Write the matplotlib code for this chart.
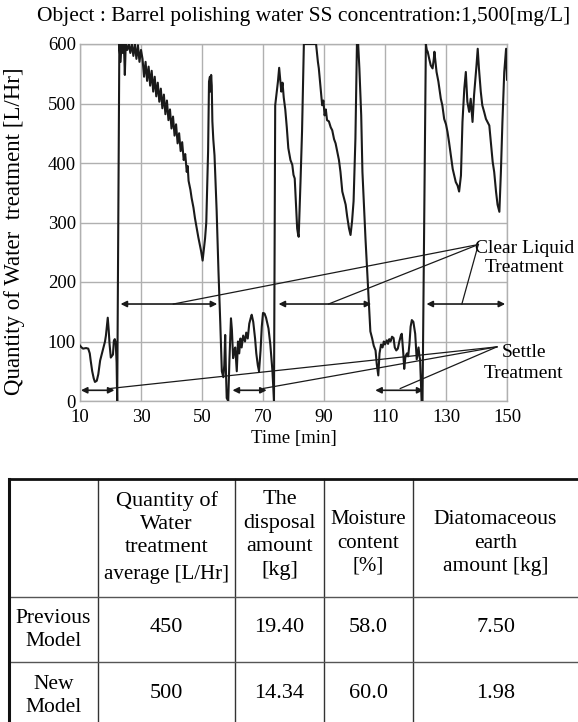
import matplotlib
matplotlib.use('Agg')
import matplotlib.pyplot as plt

plt.rcParams['font.family'] = ['Liberation Serif', 'DejaVu Serif']

# flow curve: time [min], quantity [L/Hr]
time_min = [
    10, 10.5, 11, 12, 12.7, 13.2, 13.5, 14, 14.5, 14.9, 15.5, 16, 16.6, 17.2, 17.8, 18.2, 18.5, 18.8,
    19.1, 19.4, 19.7, 20.1, 20.5, 20.8, 21.1, 21.4, 21.7, 22.0, 22.2,
    22.9, 23.3, 23.6, 24.0, 24.4, 24.7, 25.0, 25.5, 26, 26.5, 27, 27.5, 28, 28.5, 29, 29.5, 30,
    30.5, 31.0, 31.5, 32.0, 32.5, 33.0, 33.5, 34.0, 34.5, 35.0, 35.5, 36.0, 36.5, 37.0, 37.5, 38.0,
    38.5, 39.0, 39.5, 40.0, 40.5, 41.0, 41.5, 42.0, 42.5, 43.0, 43.5, 44.0, 44.5, 45.0, 45.3, 45.6,
    46.2, 46.6, 47.2, 47.7, 48.2, 48.8, 49.3, 49.7, 50.2,
    50.6, 51.0, 51.4, 51.7, 52.0, 52.3, 52.6, 52.8, 53.0, 53.2, 53.4, 53.7, 54.1, 54.8, 55.4, 56.0,
    56.5, 57.0, 57.3, 57.6, 57.8, 58.1, 58.6, 59.0, 59.5, 59.8, 60.2, 60.6, 60.9, 61.4, 61.8, 62.2,
    62.6, 63.0, 63.5, 64.1, 64.5, 65.0, 65.5, 66.0, 66.3, 66.8, 67.4, 67.8, 68.3, 68.7, 69.2, 69.6,
    70.0, 70.5, 71.0, 71.8, 72.4, 73.1, 73.6,
    74.0, 74.9, 75.3, 75.6, 76.0, 76.4, 76.8, 77.3, 77.8, 78.3, 79.0, 79.6, 80.0, 80.4, 80.8, 81.2,
    81.5, 81.7, 82.0, 82.3, 82.8, 83.4, 87.4, 88.0, 88.3, 88.8, 89.4, 89.8, 90.2, 90.6, 91.0, 91.6,
    92.2, 92.7, 93.3, 93.8, 94.3, 94.9, 95.4, 96.0, 96.6, 97.1, 97.6, 98.2, 98.7, 99.2, 99.7, 100.3,
    100.8, 101.2, 101.6, 102.2, 102.6, 103.6, 104.5, 105.2, 105.8, 106.3, 106.9, 107.3, 107.8, 108.2,
    108.7, 109.2, 109.6, 110.0, 110.6, 111.0, 111.4, 111.8, 112.3, 112.8, 113.2, 113.7, 114.2, 114.7,
    115.2, 115.5, 116.0, 116.3, 116.7, 117.2, 117.6, 118.0, 118.4, 118.8, 119.3, 119.9, 120.4, 120.7,
    121.0, 121.3, 121.5, 122.0, 122.3,
    123.4, 123.7, 124.0, 124.5, 125.0, 125.6, 126.0, 126.2, 126.9, 127.5, 128.3, 128.8, 129.4, 130.0,
    130.5, 131.0, 131.6, 132.2, 132.7, 133.2, 133.8, 134.3, 134.9, 135.4, 136.0, 136.5, 137.0, 137.6,
    138.1, 138.7, 139.2, 140.0, 140.4, 140.8, 141.4, 141.9, 142.5, 143.1, 144.2, 144.8, 145.3, 145.8,
    146.4, 146.9, 147.5, 148.0, 148.5, 149.1, 149.7, 150.0,
]
flow_lhr = [
    93, 90, 88, 89, 88, 80, 68, 50, 38, 32, 34, 45, 68, 80, 92, 100, 110, 125,
    140, 120, 95, 73, 76, 78, 101, 104, 98, 65, 0,
    600, 570, 600, 585, 600, 548, 600, 590, 600, 585, 600, 580, 600, 575, 598, 570, 590,
    575, 545, 570, 538, 562, 530, 555, 520, 545, 512, 535, 503, 525, 492, 515, 482,
    505, 472, 490, 458, 478, 446, 465, 433, 450, 420, 435, 405, 415, 385, 395, 370,
    355, 341, 325, 307, 292, 275, 262, 252, 236,
    255, 273, 300, 357, 420, 537, 545, 520, 548, 530, 470, 440, 413, 320, 218, 130,
    50, 40, 60, 111, 60, 5, 0, 70, 139, 120, 72, 85, 90, 50, 100, 80,
    105, 90, 110, 100, 115, 105, 130, 140, 145, 133, 105, 80, 60, 50, 85, 125,
    148, 147, 140, 122, 95, 50, 0,
    497, 537, 560, 542, 520, 535, 510, 490, 460, 425, 405, 397, 380, 374, 330, 290,
    280, 276, 320, 369, 453, 600, 600, 570, 559, 530, 497, 505, 480, 490, 472, 470,
    460, 455, 440, 433, 420, 405, 385, 352, 340, 330, 310, 290, 279, 302, 336, 441,
    600, 600, 559, 480, 385, 273, 184, 117, 105, 93, 85, 62, 43, 80,
    95, 90, 100, 95, 102, 96, 104, 100, 108, 106, 90, 85, 88, 100,
    110, 113, 80, 54, 75, 80, 75, 95, 125, 136, 133, 113, 70, 80,
    90, 75, 70, 0, 0,
    600, 590, 587, 575, 564, 559, 575, 587, 553, 537, 508, 497, 474, 465,
    452, 435, 413, 390, 379, 368, 362, 352, 379, 469, 525, 553, 503, 486,
    508, 469, 514, 564, 592, 559, 520, 497, 486, 474, 463, 430, 402, 385,
    352, 330, 318, 385, 469, 553, 592, 540,
]

# treatment spans (start, end) in minutes
clear_spans = [(23.3, 55.0), (75.1, 105.5), (123.6, 149.4)]
clear_level = 163
clear_anchor_t = [40.6, 91.5, 135.2]
clear_tip = (140.6, 263)
settle_spans = [(10.3, 21.3), (60.0, 71.2), (106.8, 122.6)]
settle_level = 18
settle_anchor_t = [19.8, 70.0, 115.0]
settle_tip = (146.7, 91)

x_ticks = [10, 30, 50, 70, 90, 110, 130, 150]
y_ticks = [0, 100, 200, 300, 400, 500, 600]

# table contents
col_heads = ['Quantity of\nWater\ntreatment', 'The\ndisposal\namount\n[kg]',
             'Moisture\ncontent\n[%]', 'Diatomaceous\nearth\namount [kg]']
row_heads = ['Previous\nModel', 'New\nModel']
cell_vals = [['450', '19.40', '58.0', '7.50'],
             ['500', '14.34', '60.0', '1.98']]

fig = plt.figure(figsize=(5.78, 7.22), dpi=100)
ax = fig.add_axes([80 / 578, 1 - 401 / 722, 427 / 578, 357 / 722])

ax.plot(time_min, flow_lhr, color='#1a1a1a', lw=1.5, zorder=3)
ax.set_xlim(10, 150)
ax.set_ylim(0, 600)
ax.set_xticks(x_ticks)
ax.set_yticks(y_ticks)
ax.grid(True, color='#b0b0b0', lw=1.0)
ax.tick_params(length=0, labelsize=13.5)
ax.tick_params(axis='x', pad=6)
ax.tick_params(axis='y', pad=3)
for lbl in ax.get_yticklabels():
    lbl.set_va('center_baseline')
for s in ax.spines.values():
    s.set_color('#b0b0b0')
    s.set_linewidth(1.0)
ax.set_axisbelow(True)
ax.set_xlabel('Time [min]', fontsize=13.5, labelpad=3)
fig.text(15 / 578, 1 - 231 / 722, 'Quantity of Water  treatment [L/Hr]', rotation=90,
         ha='center', va='center', fontsize=16.5)
fig.text(0.525, 1 - 17 / 722, 'Object : Barrel polishing water SS concentration:1,500[mg/L]',
         ha='center', va='center', fontsize=15.5)

aprops = dict(arrowstyle='<|-|>', color='#1a1a1a', lw=1.2, mutation_scale=9,
              shrinkA=0, shrinkB=0)
for (a, b) in clear_spans:
    ax.annotate('', xy=(b, clear_level), xytext=(a, clear_level), arrowprops=aprops, zorder=4)
for (a, b) in settle_spans:
    ax.annotate('', xy=(b, settle_level), xytext=(a, settle_level), arrowprops=aprops, zorder=4)
for t in clear_anchor_t:
    ax.plot([t, clear_tip[0]], [clear_level, clear_tip[1]], color='#1a1a1a', lw=0.9,
            clip_on=False, zorder=4)
for t in settle_anchor_t:
    ax.plot([t, settle_tip[0]], [settle_level + 3, settle_tip[1]], color='#1a1a1a', lw=0.9,
            clip_on=False, zorder=4)
ax.text(155.9, 241, 'Clear Liquid\nTreatment', ha='center', va='center', fontsize=14,
        linespacing=1.15, clip_on=False)
ax.text(155.5, 64, 'Settle\nTreatment', ha='center', va='center', fontsize=14,
        linespacing=1.25, clip_on=False)

# table drawn in pixel space
tab = fig.add_axes([0, 0, 1, 1])
tab.set_xlim(0, 578)
tab.set_ylim(722, 0)
tab.axis('off')
col_x = [9, 98, 235, 324, 413, 590]
row_y = [479, 597, 662, 727]
for x in col_x[1:-1]:
    tab.plot([x, x], [row_y[0], row_y[-1]], color='#333333', lw=1.0)
for y in row_y[1:-1]:
    tab.plot([col_x[0], col_x[-1]], [y, y], color='#555555', lw=1.0)
tab.plot([col_x[0], col_x[-1]], [row_y[0], row_y[0]], color='#111111', lw=2.0)
tab.plot([col_x[0], col_x[0]], [row_y[0], row_y[-1]], color='#111111', lw=2.2)

cx = [(col_x[i] + col_x[i + 1]) / 2 for i in range(len(col_x) - 1)]
cx[-1] = (413 + 578) / 2
tab.text(cx[1], 524, col_heads[0], ha='center', va='center', fontsize=16, linespacing=1.3)
tab.text(cx[1], 575, 'average [L/Hr]', ha='center', va='center', fontsize=15)
tab.text(cx[2], 535, col_heads[1], ha='center', va='center', fontsize=16, linespacing=1.33)
tab.text(cx[3], 543, col_heads[2], ha='center', va='center', fontsize=15, linespacing=1.3)
tab.text(cx[4], 543, col_heads[3], ha='center', va='center', fontsize=15.5, linespacing=1.3)
row_text_y = [630, 696]
for r in range(2):
    tab.text(cx[0], row_text_y[r], row_heads[r], ha='center', va='center', fontsize=15.5,
             linespacing=1.3)
    for c in range(4):
        tab.text(cx[c + 1], row_text_y[r] - 2, cell_vals[r][c], ha='center', va='center',
                 fontsize=16)

fig.savefig('out.png', dpi=100)
